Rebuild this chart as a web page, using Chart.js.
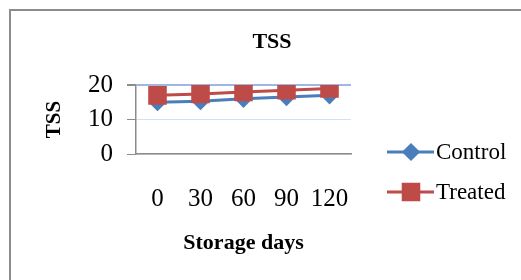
<!DOCTYPE html>
<html>
<head>
<meta charset="utf-8">
<script src="https://cdn.jsdelivr.net/npm/chart.js@4.4.1/dist/chart.umd.min.js"></script>
<style>
  body { margin: 0; background: #fff; overflow: hidden; }
  #wrap { position: relative; width: 521px; height: 280px; }
  #frame { position: absolute; left: 9px; top: 9px; width: 600px; height: 400px; border: 2px solid #8c8c8c; box-sizing: border-box; }
  canvas { position: absolute; left: 0; top: 0; }
</style>
</head>
<body>
<div id="wrap">
  <div id="frame"></div>
  <canvas id="chart" width="521" height="280"></canvas>
</div>
<script>
// du lieu doc tu hinh
const storageDays = ['0', '30', '60', '90', '120'];
const controlTSS = [15.0, 15.3, 16.0, 16.5, 17.0];
const treatedTSS = [17.0, 17.4, 18.0, 18.5, 19.0];
const yTicks = [0, 10, 20];

const serif = "'Liberation Serif', 'Times New Roman', serif";

// ve tieu de va chu thich
const extras = {
  id: 'extras',
  afterDraw(chart) {
    const ctx = chart.ctx;
    ctx.save();
    ctx.fillStyle = '#000';
    ctx.font = 'bold 22px ' + serif;
    ctx.textAlign = 'center';
    ctx.textBaseline = 'middle';
    ctx.fillText('TSS', 272, 42);

    const ys = [152, 192];
    chart.data.datasets.forEach((ds, i) => {
      const y = ys[i];
      ctx.strokeStyle = ds.borderColor;
      ctx.lineWidth = 3;
      ctx.beginPath();
      ctx.moveTo(387, y);
      ctx.lineTo(434, y);
      ctx.stroke();
      Chart.helpers.drawPoint(ctx, {
        pointStyle: ds.pointStyle,
        radius: ds.pointRadius,
        borderWidth: 1
      }, 411, y);
      ctx.fillStyle = ds.pointBackgroundColor;
      ctx.fill();
      ctx.fillStyle = '#000';
      ctx.font = '23px ' + serif;
      ctx.textAlign = 'left';
      ctx.fillText(ds.label, 436, y + 1);
    });
    ctx.restore();
  }
};

new Chart(document.getElementById('chart').getContext('2d'), {
  type: 'line',
  data: {
    labels: storageDays,
    datasets: [{
      label: 'Control',
      data: controlTSS,
      borderColor: '#4A7EBB',
      backgroundColor: '#4A7EBB',
      pointBackgroundColor: '#4A7EBB',
      pointBorderColor: '#4A7EBB',
      borderWidth: 3,
      pointStyle: 'rectRot',
      pointRadius: 7,
      tension: 0,
      order: 2
    }, {
      label: 'Treated',
      data: treatedTSS,
      borderColor: '#BE4B48',
      backgroundColor: '#BE4B48',
      pointBackgroundColor: '#BE4B48',
      pointBorderColor: '#BE4B48',
      borderWidth: 3,
      pointStyle: 'rect',
      pointRadius: 11,
      tension: 0,
      order: 1
    }]
  },
  options: {
    responsive: false,
    animation: false,
    layout: { padding: { top: 85, right: 170, left: 0, bottom: 0 } },
    plugins: {
      legend: { display: false },
      title: { display: false },
      tooltip: { enabled: false }
    },
    scales: {
      x: {
        offset: true,
        grid: { display: false },
        border: { display: true, color: '#8c8c8c', width: 1.5 },
        ticks: { color: '#000', font: { family: serif, size: 25 }, padding: 22 },
        title: { display: true, text: 'Storage days', color: '#000',
                 font: { family: serif, size: 22, weight: 'bold' }, padding: { top: 0, bottom: 23 } },
        afterFit(scale) { scale.height = 126; }
      },
      y: {
        min: 0,
        max: 20,
        afterBuildTicks(scale) { scale.ticks = yTicks.map(v => ({ value: v })); },
        grid: {
          color: ctx => ctx.tick && ctx.tick.value === 20 ? '#9DB9E3' : '#D3E0F3',
          lineWidth: ctx => ctx.tick && ctx.tick.value === 20 ? 2 : 1,
          tickColor: '#8c8c8c',
          tickLength: 9
        },
        border: { display: true, color: '#8c8c8c', width: 1.5 },
        ticks: { color: '#000', font: { family: serif, size: 25 }, padding: 14 },
        title: { display: true, text: 'TSS', color: '#000',
                 font: { family: serif, size: 21, weight: 'bold' }, padding: { top: 42, bottom: 0 } },
        afterFit(scale) { scale.width = 136; }
      }
    }
  },
  plugins: [extras]
});
</script>
</body>
</html>
